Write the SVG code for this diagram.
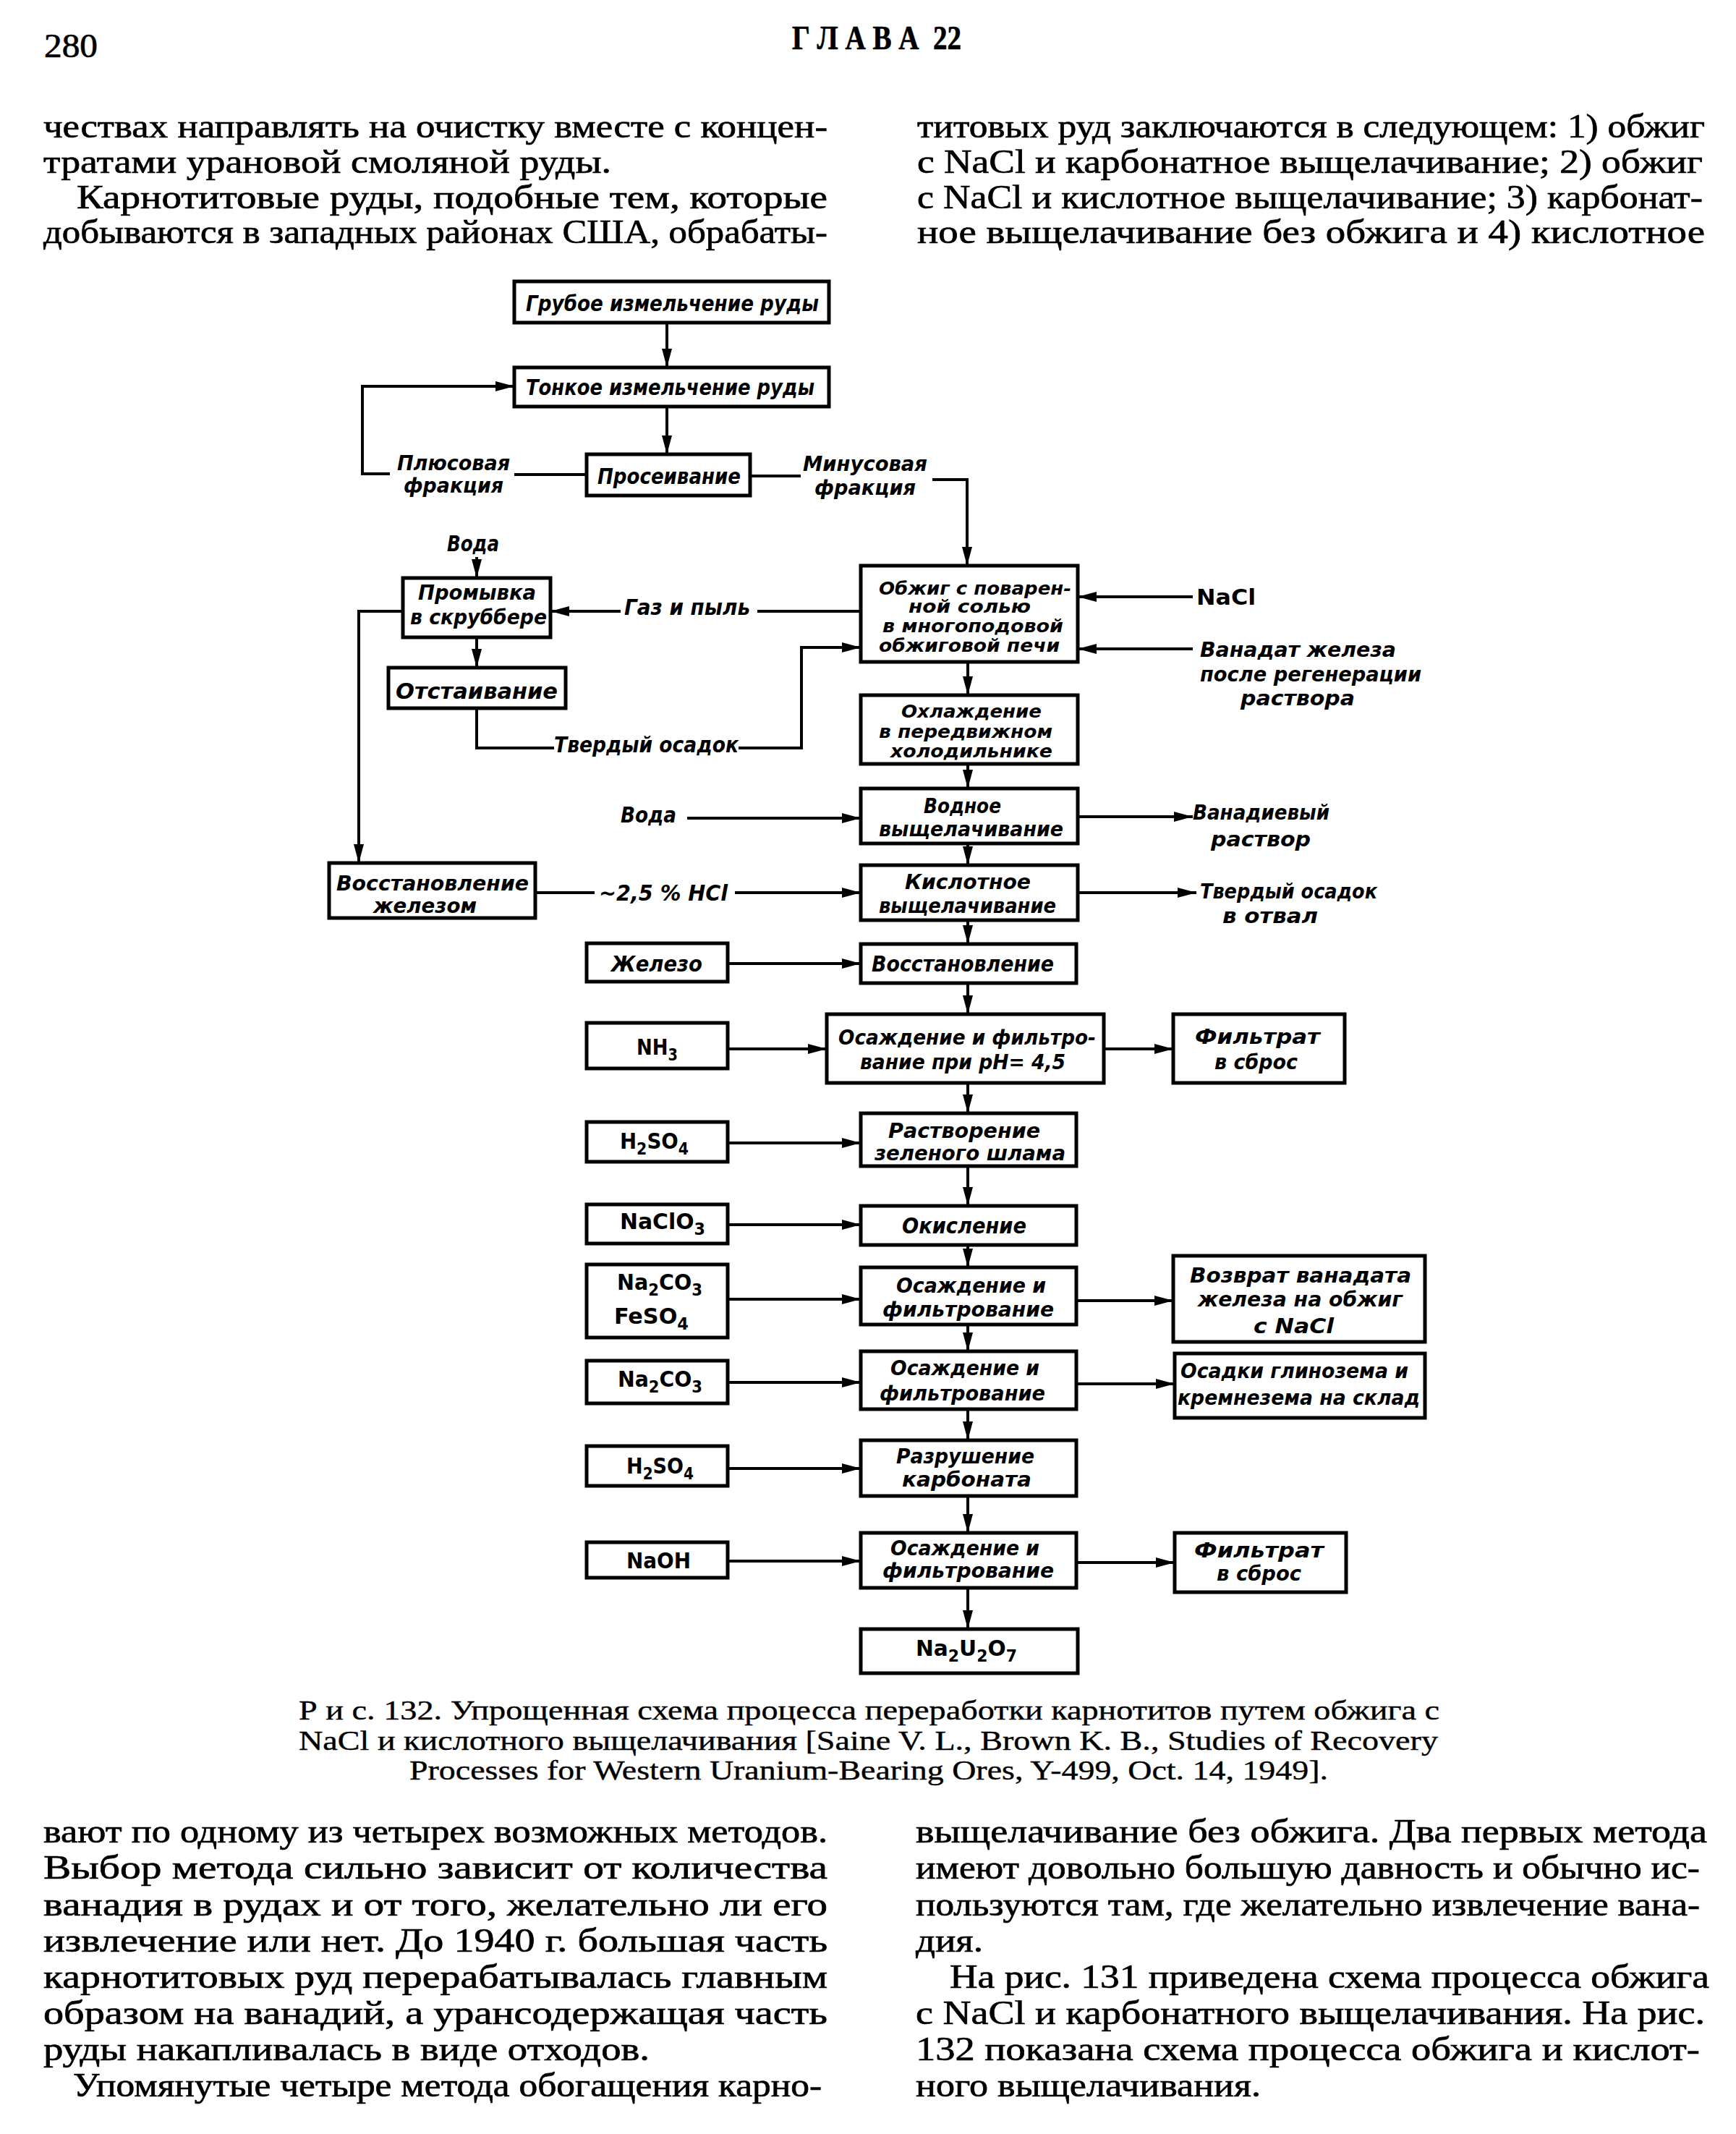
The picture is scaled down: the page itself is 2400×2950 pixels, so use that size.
<svg xmlns="http://www.w3.org/2000/svg" width="2400" height="2950" viewBox="0 0 2400 2950">
<style>
.box{fill:none;stroke:#000;stroke-width:5}
.ln{fill:none;stroke:#000;stroke-width:4}
.ar{fill:none;stroke:#000;stroke-width:4;marker-end:url(#ah)}
.t{font-family:"DejaVu Sans Condensed","DejaVu Sans",sans-serif;font-style:italic;font-weight:bold;font-size:31px;fill:#000}
.m{font-size:28px}
.s{font-size:25px}
.f{font-family:"DejaVu Sans Condensed","DejaVu Sans",sans-serif;font-weight:bold;font-size:31px;fill:#000}
.b{font-family:"Liberation Serif",serif;font-size:46px;fill:#000;stroke:#000;stroke-width:0.7}
.c{font-family:"Liberation Serif",serif;font-size:38px;fill:#000;stroke:#000;stroke-width:0.4}
</style>
<defs>
<marker id="ah" viewBox="0 0 26 14" refX="26" refY="7" markerWidth="26" markerHeight="14" markerUnits="userSpaceOnUse" orient="auto"><path d="M0,0 L26,7 L0,14 z" fill="#000"/></marker>
</defs>
<rect width="2400" height="2950" fill="#fff"/>

<g id="page-text">
<text class="b" x="61" y="79" font-size="54" textLength="74" lengthAdjust="spacingAndGlyphs">280</text>
<text class="b" x="1095" y="68" font-size="32" font-weight="bold" xml:space="preserve" textLength="234" lengthAdjust="spacingAndGlyphs">Г Л А В А  22</text>
<text class="b" x="60" y="190" textLength="1084" lengthAdjust="spacingAndGlyphs">чествах направлять на очистку вместе с концен-</text>
<text class="b" x="60" y="239" textLength="785" lengthAdjust="spacingAndGlyphs">тратами урановой смоляной руды.</text>
<text class="b" x="106" y="288" textLength="1038" lengthAdjust="spacingAndGlyphs">Карнотитовые руды, подобные тем, которые</text>
<text class="b" x="60" y="336" textLength="1084" lengthAdjust="spacingAndGlyphs">добываются в западных районах США, обрабаты-</text>
<text class="b" x="1268" y="190" textLength="1089" lengthAdjust="spacingAndGlyphs">титовых руд заключаются в следующем: 1) обжиг</text>
<text class="b" x="1268" y="239" textLength="1086" lengthAdjust="spacingAndGlyphs">с NaCl и карбонатное выщелачивание; 2) обжиг</text>
<text class="b" x="1268" y="288" textLength="1086" lengthAdjust="spacingAndGlyphs">с NaCl и кислотное выщелачивание; 3) карбонат-</text>
<text class="b" x="1268" y="336" textLength="1089" lengthAdjust="spacingAndGlyphs">ное выщелачивание без обжига и 4) кислотное</text>

<text class="c" x="413" y="2377" textLength="1577" lengthAdjust="spacingAndGlyphs">Р и с.  132. Упрощенная схема процесса переработки карнотитов путем обжига с</text>
<text class="c" x="413" y="2419" textLength="1575" lengthAdjust="spacingAndGlyphs">NaCl и кислотного выщелачивания  [Saine V. L., Brown K. B., Studies of Recovery</text>
<text class="c" x="566" y="2460" textLength="1270" lengthAdjust="spacingAndGlyphs">Processes for Western Uranium-Bearing Ores, Y-499, Oct. 14, 1949].</text>

<text class="b" x="60" y="2547" textLength="1084" lengthAdjust="spacingAndGlyphs">вают по одному из четырех возможных методов.</text>
<text class="b" x="60" y="2597" textLength="1084" lengthAdjust="spacingAndGlyphs">Выбор метода сильно зависит от количества</text>
<text class="b" x="60" y="2648" textLength="1084" lengthAdjust="spacingAndGlyphs">ванадия в рудах и от того, желательно ли его</text>
<text class="b" x="60" y="2698" textLength="1084" lengthAdjust="spacingAndGlyphs">извлечение или нет. До 1940 г. большая часть</text>
<text class="b" x="60" y="2748" textLength="1084" lengthAdjust="spacingAndGlyphs">карнотитовых руд перерабатывалась главным</text>
<text class="b" x="60" y="2798" textLength="1084" lengthAdjust="spacingAndGlyphs">образом на ванадий, а урансодержащая часть</text>
<text class="b" x="60" y="2848" textLength="838" lengthAdjust="spacingAndGlyphs">руды накапливалась в виде отходов.</text>
<text class="b" x="101" y="2898" textLength="1035" lengthAdjust="spacingAndGlyphs">Упомянутые четыре метода обогащения карно-</text>
<text class="b" x="1266" y="2547" textLength="1094" lengthAdjust="spacingAndGlyphs">выщелачивание без обжига. Два первых метода</text>
<text class="b" x="1266" y="2597" textLength="1084" lengthAdjust="spacingAndGlyphs">имеют довольно большую давность и обычно ис-</text>
<text class="b" x="1266" y="2648" textLength="1084" lengthAdjust="spacingAndGlyphs">пользуются там, где желательно извлечение вана-</text>
<text class="b" x="1266" y="2698" textLength="93" lengthAdjust="spacingAndGlyphs">дия.</text>
<text class="b" x="1313" y="2748" textLength="1050" lengthAdjust="spacingAndGlyphs">На рис. 131 приведена схема процесса обжига</text>
<text class="b" x="1266" y="2798" textLength="1091" lengthAdjust="spacingAndGlyphs">с NaCl и карбонатного выщелачивания. На рис.</text>
<text class="b" x="1266" y="2848" textLength="1084" lengthAdjust="spacingAndGlyphs">132 показана схема процесса обжига и кислот-</text>
<text class="b" x="1266" y="2898" textLength="477" lengthAdjust="spacingAndGlyphs">ного выщелачивания.</text>
</g>

<g id="connectors">
<path class="ar" d="M922,446 V508"/>
<path class="ar" d="M922,562 V628"/>
<path class="ln" d="M811,656 H711"/>
<path class="ar" d="M539,655 H501 V534 H711"/>
<path class="ln" d="M1037,658 H1107"/>
<path class="ar" d="M1289,663 H1337 V782"/>
<path class="ln" d="M1190,845 H1047"/>
<path class="ar" d="M858,845 H761"/>
<path class="ar" d="M659,770 V799"/>
<path class="ar" d="M659,881 V923"/>
<path class="ln" d="M659,979 V1034 H766"/>
<path class="ar" d="M1021,1034 H1108 V895 H1190"/>
<path class="ar" d="M557,845 H496 V1193"/>
<path class="ar" d="M1649,825 H1490"/>
<path class="ar" d="M1649,897 H1490"/>
<path class="ar" d="M1338,915 V961"/>
<path class="ar" d="M1338,1056 V1090"/>
<path class="ar" d="M950,1131 H1190"/>
<path class="ar" d="M1490,1129 H1649"/>
<path class="ar" d="M1338,1166 V1196"/>
<path class="ln" d="M740,1234 H822"/>
<path class="ar" d="M1016,1234 H1190"/>
<path class="ar" d="M1490,1234 H1654"/>
<path class="ar" d="M1338,1272 V1305"/>
<path class="ar" d="M1006,1332 H1190"/>
<path class="ar" d="M1338,1359 V1402"/>
<path class="ar" d="M1006,1450 H1143"/>
<path class="ar" d="M1526,1450 H1622"/>
<path class="ar" d="M1338,1497 V1539"/>
<path class="ar" d="M1006,1580 H1190"/>
<path class="ar" d="M1338,1612 V1667"/>
<path class="ar" d="M1006,1693 H1190"/>
<path class="ar" d="M1338,1721 V1752"/>
<path class="ar" d="M1006,1796 H1190"/>
<path class="ar" d="M1488,1798 H1622"/>
<path class="ar" d="M1338,1831 V1868"/>
<path class="ar" d="M1006,1911 H1190"/>
<path class="ar" d="M1488,1913 H1624"/>
<path class="ar" d="M1338,1948 V1991"/>
<path class="ar" d="M1006,2030 H1190"/>
<path class="ar" d="M1338,2068 V2119"/>
<path class="ar" d="M1006,2158 H1190"/>
<path class="ar" d="M1488,2160 H1624"/>
<path class="ar" d="M1338,2195 V2252"/>
</g>

<g id="labels">
<g id="lbl-plus"><text class="t m" x="549" y="650" textLength="156" lengthAdjust="spacingAndGlyphs">Плюсовая</text><text class="t m" x="558" y="681" textLength="138" lengthAdjust="spacingAndGlyphs">фракция</text></g>
<g id="lbl-minus"><text class="t m" x="1110" y="651" textLength="172" lengthAdjust="spacingAndGlyphs">Минусовая</text><text class="t m" x="1126" y="684" textLength="140" lengthAdjust="spacingAndGlyphs">фракция</text></g>
<g id="lbl-water1"><text class="t" x="618" y="762" textLength="72" lengthAdjust="spacingAndGlyphs">Вода</text></g>
<g id="lbl-gas"><text class="t" x="863" y="850" textLength="174" lengthAdjust="spacingAndGlyphs">Газ и пыль</text></g>
<g id="lbl-nacl"><text class="f" x="1654" y="836" textLength="82" lengthAdjust="spacingAndGlyphs">NaCl</text></g>
<g id="lbl-vanadat"><text class="t m" x="1659" y="908" textLength="271" lengthAdjust="spacingAndGlyphs">Ванадат железа</text><text class="t m" x="1659" y="942" textLength="306" lengthAdjust="spacingAndGlyphs">после регенерации</text><text class="t m" x="1715" y="975" textLength="158" lengthAdjust="spacingAndGlyphs">раствора</text></g>
<g id="lbl-solid1"><text class="t" x="766" y="1040" textLength="255" lengthAdjust="spacingAndGlyphs">Твердый осадок</text></g>
<g id="lbl-water2"><text class="t" x="858" y="1137" textLength="77" lengthAdjust="spacingAndGlyphs">Вода</text></g>
<g id="lbl-vsol"><text class="t m" x="1649" y="1133" textLength="189" lengthAdjust="spacingAndGlyphs">Ванадиевый</text><text class="t m" x="1674" y="1170" textLength="138" lengthAdjust="spacingAndGlyphs">раствор</text></g>
<g id="lbl-hcl"><text class="t" x="828" y="1245" textLength="178" lengthAdjust="spacingAndGlyphs">~2,5 % HCl</text></g>
<g id="lbl-solid2"><text class="t m" x="1659" y="1242" textLength="245" lengthAdjust="spacingAndGlyphs">Твердый осадок</text><text class="t m" x="1690" y="1276" textLength="132" lengthAdjust="spacingAndGlyphs">в отвал</text></g>
</g>

<g id="n1"><rect class="box" x="711" y="389" width="435" height="57"/><text class="t" x="727" y="430" textLength="405" lengthAdjust="spacingAndGlyphs">Грубое измельчение руды</text></g>
<g id="n2"><rect class="box" x="711" y="508" width="435" height="54"/><text class="t" x="727" y="546" textLength="399" lengthAdjust="spacingAndGlyphs">Тонкое измельчение руды</text></g>
<g id="n3"><rect class="box" x="811" y="628" width="226" height="57"/><text class="t" x="826" y="669" textLength="198" lengthAdjust="spacingAndGlyphs">Просеивание</text></g>
<g id="n4"><rect class="box" x="1190" y="782" width="300" height="133"/>
<text class="t s" x="1215" y="822" textLength="266" lengthAdjust="spacingAndGlyphs">Обжиг с поварен-</text>
<text class="t s" x="1256" y="847" textLength="169" lengthAdjust="spacingAndGlyphs">ной солью</text>
<text class="t s" x="1220" y="874" textLength="250" lengthAdjust="spacingAndGlyphs">в многоподовой</text>
<text class="t s" x="1215" y="901" textLength="250" lengthAdjust="spacingAndGlyphs">обжиговой печи</text></g>
<g id="n5"><rect class="box" x="557" y="799" width="204" height="82"/><text class="t m" x="578" y="829" textLength="163" lengthAdjust="spacingAndGlyphs">Промывка</text><text class="t m" x="567" y="863" textLength="189" lengthAdjust="spacingAndGlyphs">в скруббере</text></g>
<g id="n6"><rect class="box" x="537" y="923" width="245" height="56"/><text class="t" x="547" y="966" textLength="224" lengthAdjust="spacingAndGlyphs">Отстаивание</text></g>
<g id="n7"><rect class="box" x="1190" y="961" width="300" height="95"/>
<text class="t s" x="1246" y="992" textLength="194" lengthAdjust="spacingAndGlyphs">Охлаждение</text>
<text class="t s" x="1215" y="1020" textLength="240" lengthAdjust="spacingAndGlyphs">в передвижном</text>
<text class="t s" x="1231" y="1047" textLength="224" lengthAdjust="spacingAndGlyphs">холодильнике</text></g>
<g id="n8"><rect class="box" x="1190" y="1090" width="300" height="76"/><text class="t m" x="1277" y="1124" textLength="107" lengthAdjust="spacingAndGlyphs">Водное</text><text class="t m" x="1215" y="1156" textLength="255" lengthAdjust="spacingAndGlyphs">выщелачивание</text></g>
<g id="n9"><rect class="box" x="1190" y="1196" width="300" height="76"/><text class="t m" x="1251" y="1229" textLength="174" lengthAdjust="spacingAndGlyphs">Кислотное</text><text class="t m" x="1215" y="1262" textLength="245" lengthAdjust="spacingAndGlyphs">выщелачивание</text></g>
<g id="n10"><rect class="box" x="455" y="1193" width="285" height="76"/><text class="t m" x="465" y="1231" textLength="266" lengthAdjust="spacingAndGlyphs">Восстановление</text><text class="t m" x="516" y="1262" textLength="143" lengthAdjust="spacingAndGlyphs">железом</text></g>
<g id="n11"><rect class="box" x="811" y="1304" width="195" height="53"/><text class="t" x="845" y="1343" textLength="126" lengthAdjust="spacingAndGlyphs">Железо</text></g>
<g id="n12"><rect class="box" x="1190" y="1305" width="298" height="54"/><text class="t" x="1205" y="1343" textLength="252" lengthAdjust="spacingAndGlyphs">Восстановление</text></g>
<g id="n13"><rect class="box" x="1143" y="1402" width="383" height="95"/><text class="t m" x="1159" y="1444" textLength="356" lengthAdjust="spacingAndGlyphs">Осаждение и фильтро-</text><text class="t m" x="1189" y="1478" textLength="284" lengthAdjust="spacingAndGlyphs">вание при pH= 4,5</text></g>
<g id="n14"><rect class="box" x="811" y="1414" width="195" height="63"/><text class="f" x="880" y="1458" textLength="57" lengthAdjust="spacingAndGlyphs">NH<tspan dy="8" font-size="23">3</tspan></text></g>
<g id="n15"><rect class="box" x="1622" y="1402" width="237" height="95"/><text class="t m" x="1652" y="1443" textLength="173" lengthAdjust="spacingAndGlyphs">Фильтрат</text><text class="t m" x="1679" y="1478" textLength="115" lengthAdjust="spacingAndGlyphs">в сброс</text></g>
<g id="n16"><rect class="box" x="1190" y="1539" width="298" height="73"/><text class="t m" x="1228" y="1573" textLength="210" lengthAdjust="spacingAndGlyphs">Растворение</text><text class="t m" x="1209" y="1604" textLength="264" lengthAdjust="spacingAndGlyphs">зеленого шлама</text></g>
<g id="n17"><rect class="box" x="811" y="1551" width="195" height="55"/><text class="f" x="857" y="1588" textLength="95" lengthAdjust="spacingAndGlyphs">H<tspan dy="8" font-size="23">2</tspan><tspan dy="-8">SO</tspan><tspan dy="8" font-size="23">4</tspan></text></g>
<g id="n18"><rect class="box" x="1190" y="1667" width="298" height="54"/><text class="t" x="1247" y="1705" textLength="172" lengthAdjust="spacingAndGlyphs">Окисление</text></g>
<g id="n19"><rect class="box" x="811" y="1665" width="195" height="54"/><text class="f" x="857" y="1699" textLength="118" lengthAdjust="spacingAndGlyphs">NaClO<tspan dy="8" font-size="23">3</tspan></text></g>
<g id="n20"><rect class="box" x="1190" y="1752" width="298" height="79"/><text class="t m" x="1239" y="1787" textLength="207" lengthAdjust="spacingAndGlyphs">Осаждение и</text><text class="t m" x="1220" y="1820" textLength="237" lengthAdjust="spacingAndGlyphs">фильтрование</text></g>
<g id="n21"><rect class="box" x="811" y="1748" width="195" height="101"/><text class="f" x="853" y="1783" textLength="118" lengthAdjust="spacingAndGlyphs">Na<tspan dy="8" font-size="23">2</tspan><tspan dy="-8">CO</tspan><tspan dy="8" font-size="23">3</tspan></text><text class="f" x="849" y="1830" textLength="103" lengthAdjust="spacingAndGlyphs">FeSO<tspan dy="8" font-size="23">4</tspan></text></g>
<g id="n22"><rect class="box" x="1622" y="1736" width="348" height="119"/><text class="t m" x="1645" y="1773" textLength="306" lengthAdjust="spacingAndGlyphs">Возврат ванадата</text><text class="t m" x="1656" y="1806" textLength="283" lengthAdjust="spacingAndGlyphs">железа на обжиг</text><text class="t m" x="1733" y="1843" textLength="111" lengthAdjust="spacingAndGlyphs">с NaCl</text></g>
<g id="n23"><rect class="box" x="1190" y="1868" width="298" height="80"/><text class="t m" x="1231" y="1901" textLength="206" lengthAdjust="spacingAndGlyphs">Осаждение и</text><text class="t m" x="1216" y="1936" textLength="229" lengthAdjust="spacingAndGlyphs">фильтрование</text></g>
<g id="n24"><rect class="box" x="811" y="1881" width="195" height="59"/><text class="f" x="854" y="1917" textLength="117" lengthAdjust="spacingAndGlyphs">Na<tspan dy="8" font-size="23">2</tspan><tspan dy="-8">CO</tspan><tspan dy="8" font-size="23">3</tspan></text></g>
<g id="n25"><rect class="box" x="1624" y="1871" width="346" height="89"/><text class="t m" x="1632" y="1905" textLength="315" lengthAdjust="spacingAndGlyphs">Осадки глинозема и</text><text class="t m" x="1628" y="1942" textLength="335" lengthAdjust="spacingAndGlyphs">кремнезема на склад</text></g>
<g id="n26"><rect class="box" x="1190" y="1991" width="298" height="77"/><text class="t m" x="1239" y="2023" textLength="191" lengthAdjust="spacingAndGlyphs">Разрушение</text><text class="t m" x="1247" y="2055" textLength="179" lengthAdjust="spacingAndGlyphs">карбоната</text></g>
<g id="n27"><rect class="box" x="811" y="1999" width="195" height="55"/><text class="f" x="866" y="2037" textLength="93" lengthAdjust="spacingAndGlyphs">H<tspan dy="8" font-size="23">2</tspan><tspan dy="-8">SO</tspan><tspan dy="8" font-size="23">4</tspan></text></g>
<g id="n28"><rect class="box" x="1190" y="2119" width="298" height="76"/><text class="t m" x="1231" y="2150" textLength="206" lengthAdjust="spacingAndGlyphs">Осаждение и</text><text class="t m" x="1220" y="2181" textLength="237" lengthAdjust="spacingAndGlyphs">фильтрование</text></g>
<g id="n29"><rect class="box" x="811" y="2132" width="195" height="49"/><text class="f" x="866" y="2168" textLength="89" lengthAdjust="spacingAndGlyphs">NaOH</text></g>
<g id="n30"><rect class="box" x="1624" y="2119" width="237" height="82"/><text class="t m" x="1651" y="2153" textLength="179" lengthAdjust="spacingAndGlyphs">Фильтрат</text><text class="t m" x="1682" y="2185" textLength="117" lengthAdjust="spacingAndGlyphs">в сброс</text></g>
<g id="n31"><rect class="box" x="1190" y="2252" width="300" height="61"/><text class="f" x="1266" y="2289" textLength="140" lengthAdjust="spacingAndGlyphs">Na<tspan dy="8" font-size="23">2</tspan><tspan dy="-8">U</tspan><tspan dy="8" font-size="23">2</tspan><tspan dy="-8">O</tspan><tspan dy="8" font-size="23">7</tspan></text></g>
</svg>
